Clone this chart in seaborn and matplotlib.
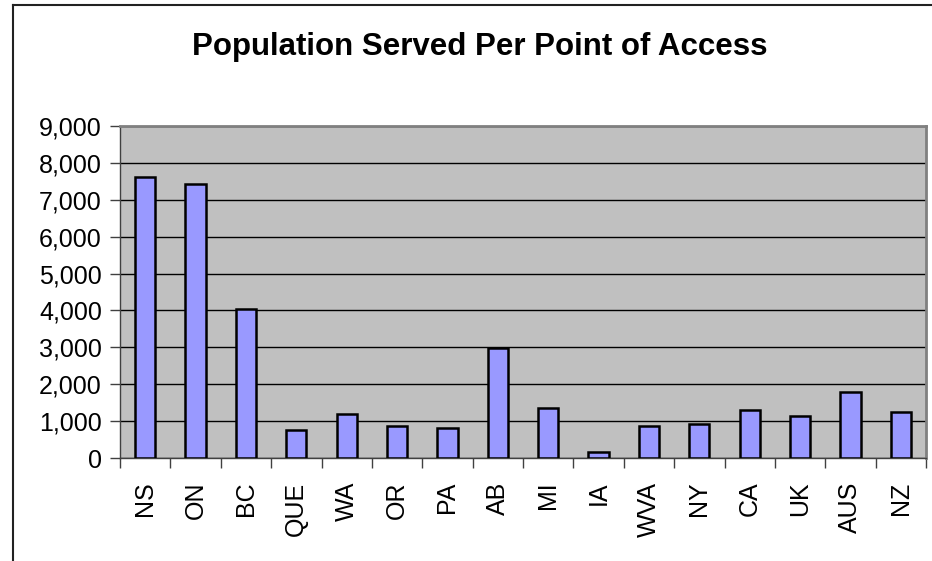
import matplotlib
matplotlib.use('Agg')
import matplotlib.pyplot as plt
import seaborn as sns
import pandas as pd
from matplotlib.lines import Line2D
from matplotlib.ticker import FuncFormatter, MultipleLocator, FixedLocator

# Data
regions = ['NS', 'ON', 'BC', 'QUE', 'WA', 'OR', 'PA', 'AB', 'MI', 'IA',
           'WVA', 'NY', 'CA', 'UK', 'AUS', 'NZ']
population = [7620, 7420, 4050, 750, 1190, 870, 820, 2980, 1360, 170,
              880, 930, 1310, 1150, 1800, 1260]

df = pd.DataFrame({'Region': regions, 'Population': population})

plt.rcParams['font.family'] = ['Liberation Sans', 'DejaVu Sans']

fig = plt.figure(figsize=(9.32, 5.61), dpi=100)
ax = fig.add_axes([120 / 932, 103 / 561, 806 / 932, 332 / 561])

sns.barplot(x='Region', y='Population', data=df, color='#9999FF', width=0.4,
            edgecolor='black', linewidth=1.8, saturation=1, ax=ax, zorder=3)

ax.set_facecolor('#C0C0C0')
ax.set_ylim(0, 9000)
ax.set_xlim(-0.5, len(regions) - 0.5)
ax.yaxis.set_major_locator(MultipleLocator(1000))
ax.yaxis.set_major_formatter(FuncFormatter(lambda v, p: f'{int(v):,}'))
ax.grid(axis='y', color='black', linewidth=1, zorder=1)
ax.set_axisbelow(True)

# x ticks between categories, labels at centres
ax.xaxis.set_minor_locator(FixedLocator([i - 0.5 for i in range(len(regions) + 1)]))
ax.tick_params(axis='x', which='major', length=0, pad=17, labelsize=18, labelrotation=90)
ax.tick_params(axis='x', which='minor', length=7, width=1, color='#404040')
ax.tick_params(axis='y', which='major', length=7, width=1, color='#404040', labelsize=18, pad=6)
for lbl in ax.get_xticklabels():
    lbl.set_va('top')

ax.set_xlabel('')
ax.set_ylabel('')

for s in ['top', 'right']:
    ax.spines[s].set_color('#808080')
    ax.spines[s].set_linewidth(2)
for s in ['left', 'bottom']:
    ax.spines[s].set_color('#404040')
    ax.spines[s].set_linewidth(1)

fig.text(479.5 / 932, 1 - 47 / 561, 'Population Served Per Point of Access',
         ha='center', va='center', fontsize=22.5, fontweight='bold')

# outer chart frame (cropped on right and bottom)
fig.add_artist(Line2D([13 / 932, 13 / 932], [0, 1 - 5 / 561], color='#222222', linewidth=1.5))
fig.add_artist(Line2D([13 / 932, 1], [1 - 5 / 561, 1 - 5 / 561], color='#222222', linewidth=1.5))

fig.savefig('out.png', dpi=100)
